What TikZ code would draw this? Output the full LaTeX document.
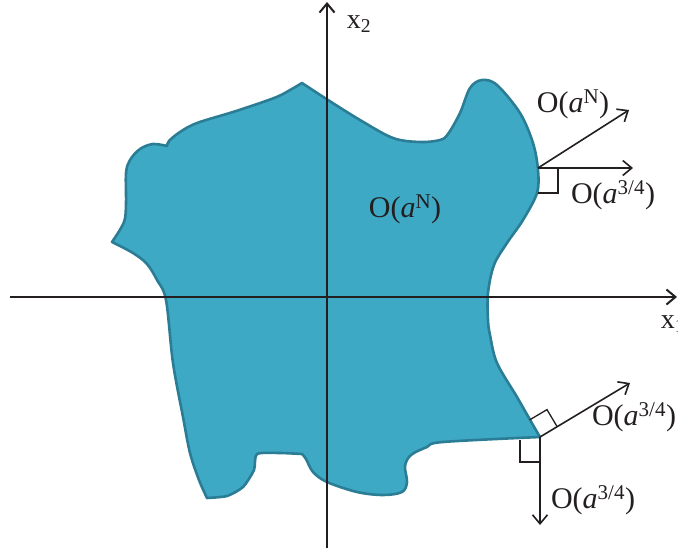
\documentclass[tikz,border=0pt]{standalone}
\usepackage{fontspec}
\setmainfont{Liberation Serif}
\usepackage{tikz}
\usetikzlibrary{arrows.meta, calc}
\definecolor{regfill}{RGB}{62,169,197}
\definecolor{regline}{RGB}{42,125,148}
\definecolor{ink}{RGB}{35,31,32}

\begin{document}
\begin{tikzpicture}[x=1pt, y=-1pt,
    axis/.style={ink, line width=2.2pt, -{Straight Barb[length=9pt, width=15pt, line width=2pt]}},
    vec/.style={ink, line width=1.6pt, -{Straight Barb[length=9pt, width=15pt, line width=1.6pt]}},
    rmark/.style={ink, line width=1.3pt},
    lbl/.style={text=ink, font=\fontsize{30}{36}\selectfont, inner sep=0pt}]
    \useasboundingbox (0,0) rectangle (678,552);

    % region
    \filldraw[fill=regfill, draw=regline, line width=2.6pt, line join=round]
        plot[smooth, tension=.55] coordinates {(302,83) (328,100) (360,120) (393,138) (420,142) (440,140) (448,134) (460,113) (470,88) (482,80) (497,85) (520,113) (533,143) (538,170) (537,193) (523,220) (507,243) (494,265) (488,293) (488,320) (490,335) (497,363) (517,397) (533,425) (540,437)}
        -- plot[smooth, tension=.55] coordinates {(540,437) (443,442) (427,447) (411,455) (405,466) (407,482) (402,492) (383,495) (357,492) (327,482) (313,472) (306,459) (302,454)}
        -- plot[smooth, tension=.4] coordinates {(302,454) (280,453) (257,454) (254,470) (243,487) (227,496) (207,498)}
        -- plot[smooth, tension=.55] coordinates {(207,498) (199,480) (190,453) (183,417) (173,363) (166,300) (157,280) (147,264) (133,253) (112,242)}
        -- plot[smooth, tension=.55] coordinates {(112,242) (124,222) (126,203) (126,173) (130,160) (140,149) (153,144) (167,146)}
        -- plot[smooth, tension=.55] coordinates {(167,146) (169,141) (180,132) (197,123) (233,112) (263,102) (281,95) (302,83)}
        -- cycle;

    % axes
    \coordinate (xl) at (10,297);
    \coordinate (xr) at (677,297);
    \coordinate (yb) at (327,548);
    \coordinate (yt) at (327,2);
    \draw[axis] (xl) -- (xr);
    \draw[axis] (yb) -- (yt);
    \node[lbl, font=\fontsize{28}{34}\selectfont] (x2) at (359,24) {x\textsubscript{2}};
    \node[lbl, font=\fontsize{28}{34}\selectfont] (x1) at (673,324) {x\textsubscript{1}};

    \node[lbl] (inner) at (405,209) {O(\textit{a}\textsuperscript{N})};

    % upper right point
    \coordinate (p) at (538,168);
    \coordinate (pn) at (629,110);
    \coordinate (ps) at (633,168);
    \draw[vec] (p) -- (pn);
    \draw[vec] (p) -- (ps);
    \draw[rmark] (538,193) -- (558,193) -- (558,168);
    \node[lbl] (pnl) at (573,104) {O(\textit{a}\textsuperscript{N})};
    \node[lbl] (psl) at (613,195) {O(\textit{a}\textsuperscript{3/4})};

    % lower right point
    \coordinate (q) at (540,437);
    \coordinate (qn) at (630,383);
    \coordinate (qd) at (540,525);
    \draw[vec] (q) -- (qn);
    \draw[vec] (q) -- (qd);
    \draw[rmark] (557.2,426.8) -- (547,409.6) -- (529.8,419.8);
    \draw[rmark] (540,462) -- (520,462) -- (520,440);
    \node[lbl] (qnl) at (634,417) {O(\textit{a}\textsuperscript{3/4})};
    \node[lbl] (qdl) at (593,500) {O(\textit{a}\textsuperscript{3/4})};
\end{tikzpicture}
\end{document}
